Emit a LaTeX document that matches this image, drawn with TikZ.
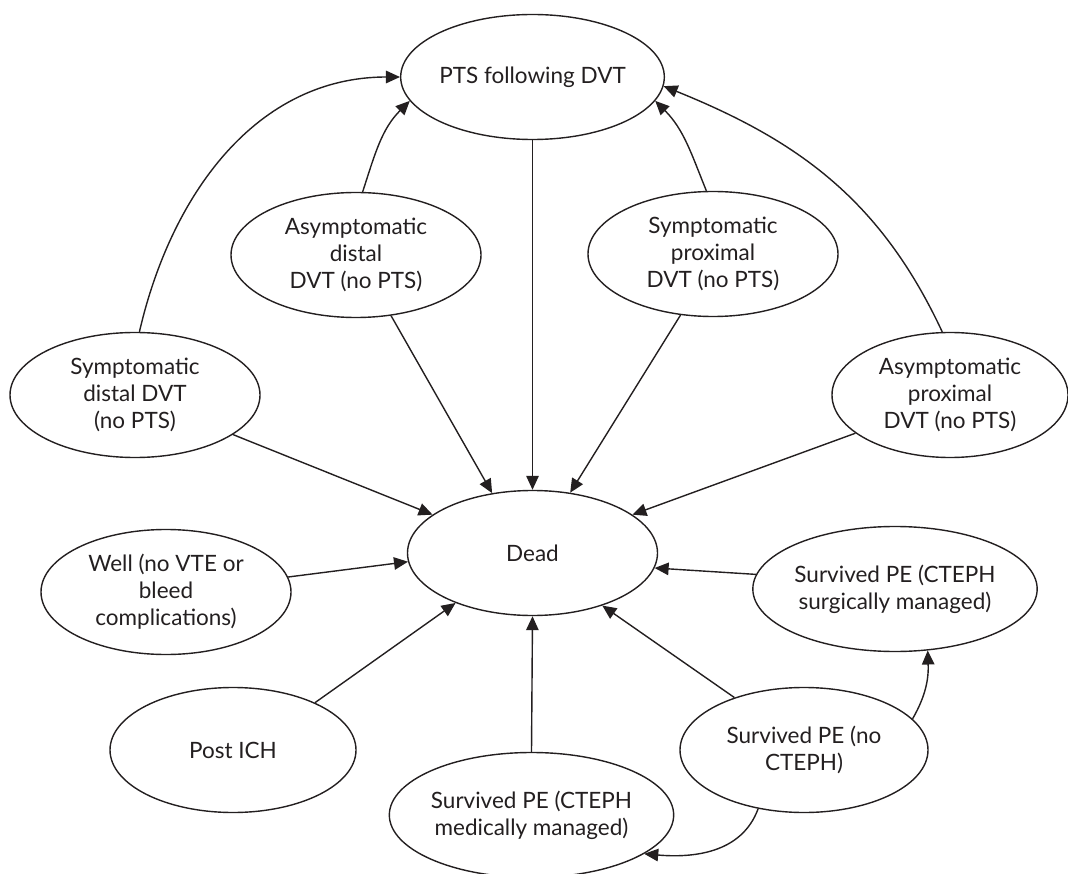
\documentclass[tikz,border=0pt]{standalone}
\usepackage{fontspec}
\setmainfont{Lato}
\usetikzlibrary{shapes.geometric,arrows.meta}
\definecolor{ink}{RGB}{35,31,32}
\begin{document}
\begin{tikzpicture}[x=1pt,y=-1pt,
  st/.style={ellipse,draw=ink,line width=1.4pt,inner sep=0pt,align=center,
    minimum width=250pt,minimum height=125pt,
    font=\fontsize{22.5}{27}\selectfont,text=ink},
  ar/.style={draw=ink,line width=1.4pt,-{Triangle[length=14pt,width=12.5pt]}}]
\useasboundingbox (0,0) rectangle (1068,874);
\node[st] (pts) at (532.5,77) {PTS following DVT};
\node[st] (ad) at (356,255) {Asymptomatic\\distal\\DVT (no PTS)};
\node[st] (sp) at (713,254) {Symptomatic\\proximal\\DVT (no PTS)};
\node[st] (sd) at (135,395) {Symptomatic\\distal DVT\\(no PTS)};
\node[st,minimum width=236pt] (ap) at (950,395) {Asymptomatic\\proximal\\DVT (no PTS)};
\node[st] (dead) at (532.5,553) {Dead};
\node[st] (well) at (166,592) {Well (no VTE or\\bleed\\complications)};
\node[st,minimum width=246pt] (ich) at (233,750) {Post ICH};
\node[st] (surg) at (895,589) {Survived PE (CTEPH\\surgically managed)};
\node[st,minimum width=248pt] (noc) at (804,750) {Survived PE (no\\CTEPH)};
\node[st] (med) at (531.5,815) {Survived PE (CTEPH\\medically managed)};
% to PTS
\draw[ar] (sd.86) to[out=77,in=180] (pts.180);
\draw[ar] (ad.84) to[out=72,in=225] (pts.191);
\draw[ar] (sp.96) to[out=112,in=-45] (pts.-11);
\draw[ar] (ap.97) to[out=115,in=-22] (pts.-4);
% to Dead
\draw[ar] (pts.270) -- (dead.90);
\draw[ar] (ad.-60) -- (dead.124);
\draw[ar] (sp.-118) -- (dead.58);
\draw[ar] (sd.-22) -- (dead.159);
\draw[ar] (ap.202) -- (dead.21);
\draw[ar] (well.7) -- (dead.184);
\draw[ar] (ich.30) -- (dead.-147);
\draw[ar] (med.90) -- (dead.-90);
\draw[ar] (noc.143) -- (dead.-37);
\draw[ar] (surg.174) -- (dead.-7);
% PE transitions
\draw[ar] (noc.16) to[out=60,in=-88] (surg.-62);
\draw[ar] (noc.-128) to[out=-110,in=-5] (med.-19);
\end{tikzpicture}
\end{document}
